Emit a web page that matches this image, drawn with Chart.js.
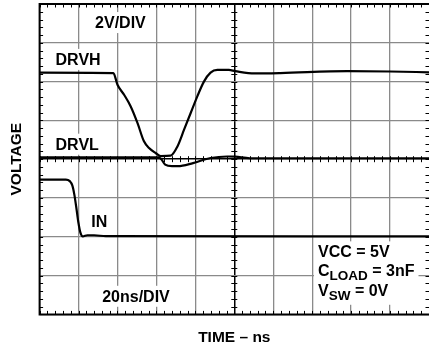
<!DOCTYPE html>
<html>
<head>
<meta charset="utf-8">
<script src="https://cdn.jsdelivr.net/npm/chart.js@4.4.0/dist/chart.umd.min.js"></script>
<style>
  html, body { margin: 0; padding: 0; background: #fff; }
  #wrap { width: 429px; height: 351px; }
</style>
</head>
<body>
<div id="wrap"><canvas id="scope"></canvas></div>
<script>
// scope screen: time in ns (20ns/DIV), screen volts (2V/DIV, traces offset as shown)
const drvhTime = [0, 37.9, 40.0, 43.4, 46.8, 50.3, 53.6, 56.2, 59.6, 62.2, 67.3, 70.8, 74.2, 77.6, 81.0, 84.4, 87.8, 91.3, 97.2, 100.5, 110.4, 123.7, 158, 180, 200];
const drvhVolt = [4.46, 4.44, 3.84, 3.32, 2.72, 1.86, 0.92, 0.58, 0.32, 0.16, 0.18, 0.66, 1.52, 2.38, 3.24, 4.0, 4.46, 4.6, 4.6, 4.54, 4.42, 4.44, 4.54, 4.52, 4.48];

const drvlTime = [0, 61, 62.5, 64.5, 68, 71, 78.8, 87.8, 96.4, 100.5, 108, 200];
const drvlVolt = [0.1, 0.1, 0.0, -0.28, -0.36, -0.36, -0.2, 0.06, 0.14, 0.13, 0.05, 0.05];

const inTime = [0, 13.5, 15.5, 16.8, 17.8, 18.8, 19.9, 21.0, 22.2, 24.5, 28, 34, 200];
const inVolt = [-1.05, -1.05, -1.13, -1.35, -1.8, -2.45, -3.25, -3.8, -3.98, -3.92, -3.92, -3.97, -3.98];

const timeMin = 0, timeMax = 200, timeStep = 20;
const voltMin = -8, voltMax = 8, voltStep = 2;

// screen labels, placed in ns / volts (baseline)
const notes = [
  { group: 'div', t: 41.5, v: 6.76, align: 'center', parts: [['2V/DIV']] },
  { group: 'drvh', t: 8.2, v: 4.86, parts: [['DRVH']] },
  { group: 'drvl', t: 8.2, v: 0.49, parts: [['DRVL']] },
  { group: 'in', t: 26.5, v: -3.47, parts: [['IN']] },
  { group: 'ns', t: 49.5, v: -7.35, align: 'center', parts: [['20ns/DIV']] },
  { group: 'cond', t: 143, v: -5.06, parts: [['VCC = 5V']] },
  { group: 'cond', t: 143, v: -6.04, parts: [['C'], ['LOAD', 'sub'], [' = 3nF']] },
  { group: 'cond', t: 143, v: -7.04, parts: [['V'], ['SW', 'sub'], [' = 0V']] }
];

const fam = '"Liberation Sans", Arial, Helvetica, sans-serif';
const mainFont = 'bold 16px ' + fam;
const subFont = 'bold 13.5px ' + fam;
const gridGray = '#8a8a8a';

function pts(ts, vs) {
  return ts.map((t, i) => ({ x: t, y: vs[i] }));
}

function trace(label, ts, vs) {
  return {
    label: label,
    data: pts(ts, vs),
    borderColor: '#000',
    borderWidth: 2.2,
    pointRadius: 0,
    fill: false,
    cubicInterpolationMode: 'monotone'
  };
}

const scopeMarks = {
  id: 'scopeMarks',
  beforeDatasetsDraw(chart) {
    const { ctx, chartArea: a, scales: { x, y } } = chart;
    const cx = x.getPixelForValue((timeMin + timeMax) / 2);
    const cy = y.getPixelForValue(0);
    ctx.save();
    ctx.strokeStyle = '#000';
    ctx.lineWidth = 1;
    ctx.beginPath();
    // minor ticks, 5 per division
    for (let k = 0; k <= 50; k++) {
      const px = Math.round(x.getPixelForValue(timeMin + k * timeStep / 5)) + 0.5;
      ctx.moveTo(px, cy - 3); ctx.lineTo(px, cy + 3);
      ctx.moveTo(px, a.top); ctx.lineTo(px, a.top + 3.5);
      ctx.moveTo(px, a.bottom); ctx.lineTo(px, a.bottom - 3.5);
    }
    for (let k = 0; k <= 40; k++) {
      const py = Math.round(y.getPixelForValue(voltMin + k * voltStep / 5)) + 0.5;
      ctx.moveTo(cx - 3, py); ctx.lineTo(cx + 3, py);
      ctx.moveTo(a.left, py); ctx.lineTo(a.left + 3.5, py);
      ctx.moveTo(a.right, py); ctx.lineTo(a.right - 3.5, py);
    }
    ctx.stroke();
    // frame
    ctx.lineWidth = 2;
    ctx.beginPath();
    ctx.moveTo(a.right, a.top);
    ctx.lineTo(a.left, a.top);
    ctx.lineTo(a.left, a.bottom);
    ctx.lineTo(a.right, a.bottom);
    ctx.stroke();
    ctx.restore();
  },
  afterDatasetsDraw(chart) {
    const { ctx, scales: { x, y } } = chart;
    ctx.save();
    const boxes = {};
    const runs = [];
    notes.forEach(n => {
      let w = 0;
      n.parts.forEach(p => {
        ctx.font = p[1] ? subFont : mainFont;
        w += ctx.measureText(p[0]).width;
      });
      const base = y.getPixelForValue(n.v);
      let left = x.getPixelForValue(n.t);
      if (n.align === 'center') left -= w / 2;
      runs.push({ n, left, base });
      const b = boxes[n.group] || { l: Infinity, r: -Infinity, t: Infinity, b: -Infinity };
      b.l = Math.min(b.l, left);
      b.r = Math.max(b.r, left + w);
      b.t = Math.min(b.t, base - 12);
      b.b = Math.max(b.b, base + (n.parts.length > 1 ? 4 : 0));
      boxes[n.group] = b;
    });
    ctx.fillStyle = '#fff';
    Object.values(boxes).forEach(b => {
      ctx.fillRect(b.l - 4, b.t - 4, b.r - b.l + 8, b.b - b.t + 9);
    });
    ctx.fillStyle = '#000';
    ctx.textBaseline = 'alphabetic';
    ctx.textAlign = 'left';
    runs.forEach(r => {
      let px = r.left;
      r.n.parts.forEach(p => {
        ctx.font = p[1] ? subFont : mainFont;
        ctx.fillText(p[0], px, r.base + (p[1] ? 4 : 0));
        px += ctx.measureText(p[0]).width;
      });
    });
    ctx.restore();
  }
};

new Chart(document.getElementById('scope'), {
  type: 'line',
  data: {
    datasets: [
      trace('DRVH', drvhTime, drvhVolt),
      trace('DRVL', drvlTime, drvlVolt),
      trace('IN', inTime, inVolt)
    ]
  },
  plugins: [scopeMarks],
  options: {
    responsive: true,
    maintainAspectRatio: false,
    animation: false,
    layout: { padding: { top: 4, right: 0, bottom: 0, left: 0 } },
    plugins: {
      legend: { display: false },
      tooltip: { enabled: false }
    },
    scales: {
      x: {
        type: 'linear',
        min: timeMin,
        max: timeMax,
        ticks: { display: false, stepSize: timeStep },
        grid: {
          drawTicks: false,
          lineWidth: c => (c.tick && c.tick.value === 100 ? 1.5 : 1.3),
          color: c => {
            if (!c.tick) return gridGray;
            if (c.tick.value === timeMax) return 'rgba(0,0,0,0)';
            return c.tick.value === 100 ? '#000' : gridGray;
          }
        },
        border: { display: false },
        title: {
          display: true,
          text: 'TIME – ns',
          color: '#000',
          font: { family: fam, weight: 'bold', size: 15.5 },
          padding: { top: 14, bottom: 4 }
        }
      },
      y: {
        min: voltMin,
        max: voltMax,
        ticks: { display: false, stepSize: voltStep },
        grid: {
          drawTicks: false,
          lineWidth: c => (c.tick && c.tick.value === 0 ? 1.5 : 1.3),
          color: c => (c.tick && c.tick.value === 0 ? '#000' : gridGray)
        },
        border: { display: false },
        title: {
          display: true,
          text: 'VOLTAGE',
          color: '#000',
          font: { family: fam, weight: 'bold', size: 15.5 },
          padding: { top: 7, bottom: 14 }
        }
      }
    }
  }
});
</script>
</body>
</html>
